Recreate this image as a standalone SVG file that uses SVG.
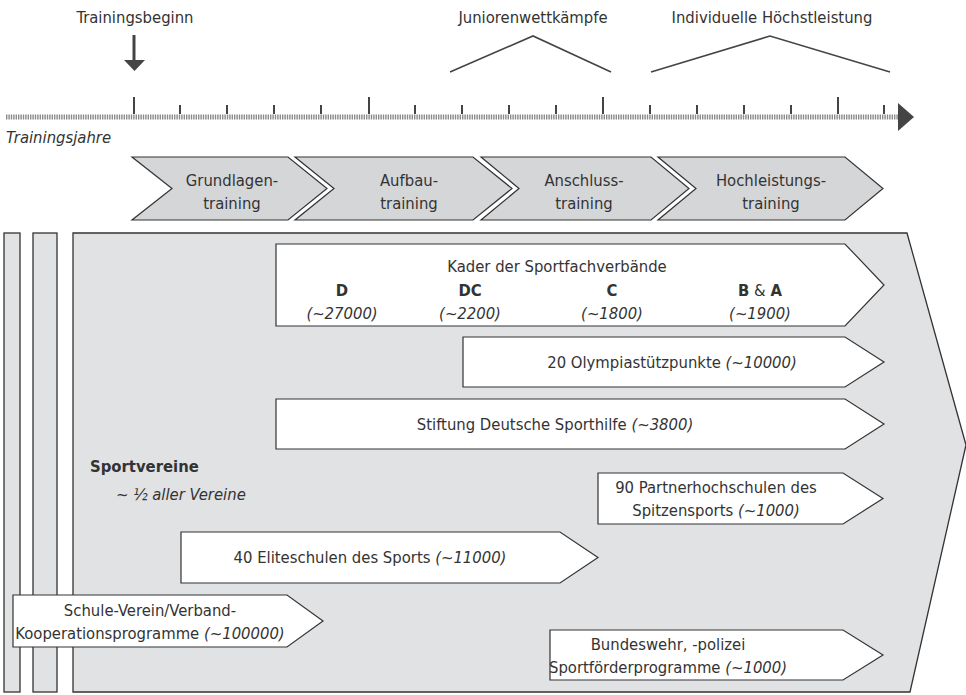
<svg xmlns="http://www.w3.org/2000/svg" width="966" height="695" viewBox="0 0 966 695">
<defs>
<style>
text{font-family:"DejaVu Sans","Liberation Sans",sans-serif;font-stretch:condensed;fill:#333;font-size:16.5px}
.c{text-anchor:middle}
.i{font-style:italic}
.b{font-weight:bold}
.chev{fill:#d5d6d8;stroke:#333;stroke-width:1.2}
.box{fill:#fff;stroke:#333;stroke-width:1.2}
.area{fill:#e1e2e4;stroke:#333;stroke-width:1.3}
.tick{stroke:#444;stroke-width:2}
.hat{fill:none;stroke:#444;stroke-width:1.6}
</style>
</defs>
<rect width="966" height="695" fill="#fff"/>
<g id="timeline">
<line x1="6" y1="117" x2="899" y2="117" stroke="#8a8a8a" stroke-width="5" stroke-dasharray="1.4 1"/>
<polygon points="898,103 914,117 898,131" fill="#444"/>
<line class="tick" x1="134" y1="97" x2="134" y2="114"/>
<line class="tick" x1="369" y1="97" x2="369" y2="114"/>
<line class="tick" x1="603" y1="97" x2="603" y2="114"/>
<line class="tick" x1="838" y1="97" x2="838" y2="114"/>
<line class="tick" x1="180" y1="105" x2="180" y2="114"/>
<line class="tick" x1="227" y1="105" x2="227" y2="114"/>
<line class="tick" x1="274" y1="105" x2="274" y2="114"/>
<line class="tick" x1="321" y1="105" x2="321" y2="114"/>
<line class="tick" x1="415" y1="105" x2="415" y2="114"/>
<line class="tick" x1="462" y1="105" x2="462" y2="114"/>
<line class="tick" x1="509" y1="105" x2="509" y2="114"/>
<line class="tick" x1="556" y1="105" x2="556" y2="114"/>
<line class="tick" x1="650" y1="105" x2="650" y2="114"/>
<line class="tick" x1="697" y1="105" x2="697" y2="114"/>
<line class="tick" x1="744" y1="105" x2="744" y2="114"/>
<line class="tick" x1="791" y1="105" x2="791" y2="114"/>
<line class="tick" x1="884" y1="105" x2="884" y2="114"/>
<text x="6" y="143" class="i">Trainingsjahre</text>
</g>
<g id="trainingsbeginn">
<text x="135" y="23" class="c">Trainingsbeginn</text>
<line x1="134" y1="35" x2="134" y2="61" stroke="#444" stroke-width="3"/>
<polygon points="124,60 145,60 134.5,71" fill="#444"/>
</g>
<g id="juniorenwettkaempfe">
<text x="533" y="23" class="c">Juniorenwettkämpfe</text>
<polyline class="hat" points="450,72 533,36 611,72"/>
</g>
<g id="hoechstleistung">
<text x="772" y="23" class="c">Individuelle Höchstleistung</text>
<polyline class="hat" points="651,72 770,36 890,72"/>
</g>
<g id="grundlagentraining">
<polygon class="chev" points="132,157 288,157 327,188.5 288,220 132,220 172,188.5"/>
<text x="232" y="186" class="c">Grundlagen-</text>
<text x="232" y="209" class="c">training</text>
</g>
<g id="aufbautraining">
<polygon class="chev" points="295,157 473,157 512,188.5 473,220 295,220 334,188.5"/>
<text x="409" y="186" class="c">Aufbau-</text>
<text x="409" y="209" class="c">training</text>
</g>
<g id="anschlusstraining">
<polygon class="chev" points="481,157 651,157 689,188.5 651,220 481,220 519,188.5"/>
<text x="584" y="186" class="c">Anschluss-</text>
<text x="584" y="209" class="c">training</text>
</g>
<g id="hochleistungstraining">
<polygon class="chev" points="658,157 845,157 883,188.5 845,220 658,220 696,188.5"/>
<text x="771" y="186" class="c">Hochleistungs-</text>
<text x="771" y="209" class="c">training</text>
</g>
<g id="bar1"><rect class="area" x="4" y="233" width="16" height="459"/></g>
<g id="bar2"><rect class="area" x="33" y="233" width="24" height="459"/></g>
<g id="sportvereine">
<polygon class="area" points="73,233 907,233 966,445 910,692 73,692"/>
<text x="90" y="472" class="b" font-size="18">Sportvereine</text>
<text x="116" y="500" class="i">~ ½ aller Vereine</text>
</g>
<g id="kader">
<polygon class="box" points="276,244 845,244 884,285 845,326 276,326"/>
<text x="557" y="272" class="c">Kader der Sportfachverbände</text>
<text x="342" y="296" class="c b">D</text>
<text x="470" y="296" class="c b">DC</text>
<text x="612" y="296" class="c b">C</text>
<text x="760" y="296" class="c"><tspan class="b">B</tspan> &amp; <tspan class="b">A</tspan></text>
<text x="342" y="319" class="c i">(~27000)</text>
<text x="470" y="319" class="c i">(~2200)</text>
<text x="612" y="319" class="c i">(~1800)</text>
<text x="760" y="319" class="c i">(~1900)</text>
</g>
<g id="olympia">
<polygon class="box" points="463,337 845,337 884,362 845,387 463,387"/>
<text x="672" y="368" class="c">20 Olympiastützpunkte <tspan class="i">(~10000)</tspan></text>
</g>
<g id="sporthilfe">
<polygon class="box" points="276,399 845,399 884,424 845,449 276,449"/>
<text x="555" y="430" class="c">Stiftung Deutsche Sporthilfe <tspan class="i">(~3800)</tspan></text>
</g>
<g id="partnerhochschulen">
<polygon class="box" points="598,473 843,473 883,498.5 843,524 598,524"/>
<text x="716" y="493" class="c">90 Partnerhochschulen des</text>
<text x="716" y="516" class="c">Spitzensports <tspan class="i">(~1000)</tspan></text>
</g>
<g id="eliteschulen">
<polygon class="box" points="181,532 560,532 598,557.5 560,583 181,583"/>
<text x="370" y="563" class="c">40 Eliteschulen des Sports <tspan class="i">(~11000)</tspan></text>
</g>
<g id="schule-verein">
<polygon class="box" points="13,595 287,595 323,621 287,647 13,647"/>
<text x="150" y="616" class="c">Schule-Verein/Verband-</text>
<text x="150" y="639" class="c">Kooperationsprogramme <tspan class="i">(~100000)</tspan></text>
</g>
<g id="bundeswehr">
<polygon class="box" points="550,630 843,630 883,655 843,680 550,680"/>
<text x="668" y="650" class="c">Bundeswehr, -polizei</text>
<text x="668" y="673" class="c">Sportförderprogramme <tspan class="i">(~1000)</tspan></text>
</g>
</svg>
